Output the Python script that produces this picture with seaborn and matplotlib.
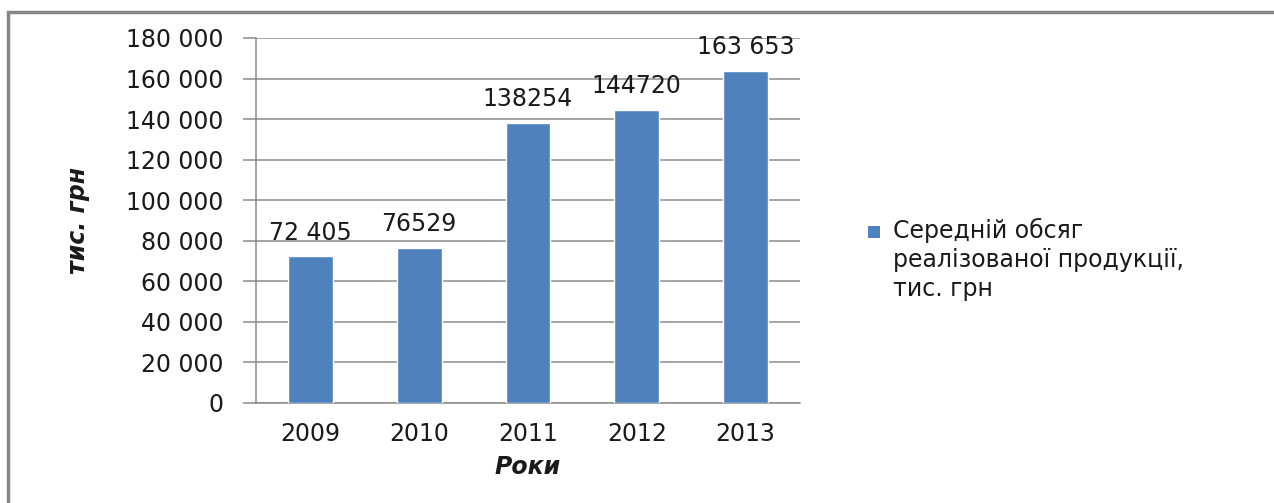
import matplotlib
matplotlib.use("Agg")
import matplotlib.pyplot as plt
from matplotlib.patches import Rectangle
from matplotlib.ticker import FuncFormatter, MultipleLocator
import seaborn as sns
import pandas as pd

# Data
years = ["2009", "2010", "2011", "2012", "2013"]
volumes = [72405, 76529, 138254, 144720, 163653]
value_labels = ["72 405", "76529", "138254", "144720", "163 653"]
series_name = "Середній обсяг\nреалізованої продукції,\nтис. грн"
y_title = "тис. грн"
x_title = "Роки"

sns.set_theme(style="white")
plt.rcParams["font.family"] = ["DejaVu Sans"]

BAR = "#4F81BD"
GRID = "#8C8C8C"
TXT = "#1a1a1a"
FS = 17

df = pd.DataFrame({"year": years, "volume": volumes})

fig = plt.figure(figsize=(12.74, 5.03), dpi=100)
W, H = 1274, 503
ax = fig.add_axes([256 / W, 1 - 403 / H, (800 - 256) / W, (403 - 38) / H])

sns.barplot(data=df, x="year", y="volume", color=BAR, saturation=1,
            width=0.41, ax=ax, zorder=3, label="_nolegend_")

ax.set_ylim(0, 180000)
ax.yaxis.set_major_locator(MultipleLocator(20000))
ax.yaxis.set_major_formatter(FuncFormatter(lambda v, p: f"{int(v):,}".replace(",", " ")))
ax.grid(axis="y", color=GRID, linewidth=1.1, zorder=0)
ax.set_axisbelow(True)

for s in ["top", "right"]:
    ax.spines[s].set_visible(False)
for s in ["left", "bottom"]:
    ax.spines[s].set_color(GRID)
    ax.spines[s].set_linewidth(1.1)

ax.tick_params(axis="y", which="major", left=True, length=9.4, width=1.1,
               color=GRID, pad=14, labelsize=FS, labelcolor=TXT)
ax.tick_params(axis="x", bottom=False, pad=8, labelsize=FS, labelcolor=TXT)

ax.set_xlabel(x_title, fontsize=FS, fontweight="bold", fontstyle="italic",
              color=TXT, labelpad=6)
ax.set_ylabel(y_title, fontsize=FS, fontweight="bold", fontstyle="italic",
              color=TXT, labelpad=26)

# Value labels above the bars
for patch, lab in zip(ax.patches, value_labels):
    ax.annotate(lab, (patch.get_x() + patch.get_width() / 2, patch.get_height()),
                xytext=(0, 12), textcoords="offset points", ha="center",
                va="baseline", fontsize=FS, color=TXT)

# Legend on the right: colour key beside the first line of the series name
fig.patches.append(Rectangle((868 / W, 1 - 238 / H), 12 / W, 12 / H,
                             transform=fig.transFigure, facecolor=BAR,
                             edgecolor="none"))
fig.text(893 / W, 1 - 218 / H, series_name, ha="left", va="top",
         fontsize=FS, color=TXT, linespacing=1.27,
         transform=fig.transFigure)

# Chart frame
fig.patches.append(Rectangle((8 / W, -0.1), 1.2, 1 - 12 / H + 0.1,
                             transform=fig.transFigure, fill=False,
                             edgecolor="#878787", linewidth=2.5))

fig.savefig("out.png", dpi=100)
